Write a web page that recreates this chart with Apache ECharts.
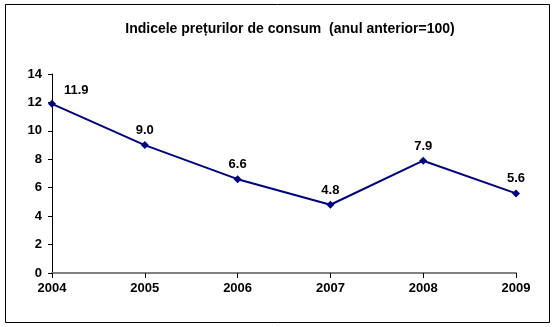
<!DOCTYPE html>
<html>
<head>
<meta charset="utf-8">
<script src="https://cdn.jsdelivr.net/npm/echarts@6/dist/echarts.min.js"></script>
<style>
  html, body { margin: 0; padding: 0; background: #fff; }
  #chart { width: 554px; height: 327px; }
</style>
</head>
<body>
<div id="chart"></div>
<script>
// Consumer price index, previous year = 100
const years = ['2004', '2005', '2006', '2007', '2008', '2009'];
const values = [11.9, 9.0, 6.6, 4.8, 7.9, 5.6];
const yTicks = [0, 2, 4, 6, 8, 10, 12, 14];

const font = 'Liberation Sans, Arial, sans-serif';
const chart = echarts.init(document.getElementById('chart'), null, { renderer: 'canvas' });

chart.setOption({
  animation: false,
  backgroundColor: '#fff',
  title: {
    text: 'Indicele prețurilor de consum  (anul anterior=100)',
    left: 285,
    textAlign: 'center',
    top: 17,
    textStyle: { fontFamily: font, fontSize: 14, fontWeight: 'bold', color: '#000' }
  },
  graphic: [{
    type: 'rect',
    shape: { x: 5.5, y: 4.5, width: 544, height: 318 },
    style: { fill: 'none', stroke: '#000', lineWidth: 1 },
    silent: true
  }],
  grid: { left: 52, right: 38, top: 74, bottom: 54 },
  xAxis: {
    type: 'category',
    data: years,
    boundaryGap: false,
    axisLine: { lineStyle: { color: '#808080', width: 2 } },
    axisTick: { show: true, length: 5, lineStyle: { color: '#000' } },
    axisLabel: { fontFamily: font, fontSize: 13, fontWeight: 'bold', color: '#000', margin: 9 },
    splitLine: { show: false }
  },
  yAxis: {
    type: 'value',
    min: yTicks[0],
    max: yTicks[yTicks.length - 1],
    interval: 2,
    axisLine: { show: true, lineStyle: { color: '#000', width: 1 } },
    axisTick: { show: true, length: 4, lineStyle: { color: '#000' } },
    axisLabel: { fontFamily: font, fontSize: 13, fontWeight: 'bold', color: '#000', margin: 10 },
    splitLine: { show: false }
  },
  series: [{
    type: 'line',
    data: values.map((v, i) => ({
      value: v,
      label: i === 0 ? { position: 'right', offset: [4, -13] } : {}
    })),
    symbol: 'diamond',
    symbolSize: 8,
    lineStyle: { color: '#000080', width: 2 },
    itemStyle: { color: '#000080' },
    label: {
      show: true,
      position: 'top',
      distance: 4,
      fontFamily: font,
      fontSize: 13,
      fontWeight: 'bold',
      color: '#000',
      formatter: p => p.value.toFixed(1)
    }
  }]
});
</script>
</body>
</html>
